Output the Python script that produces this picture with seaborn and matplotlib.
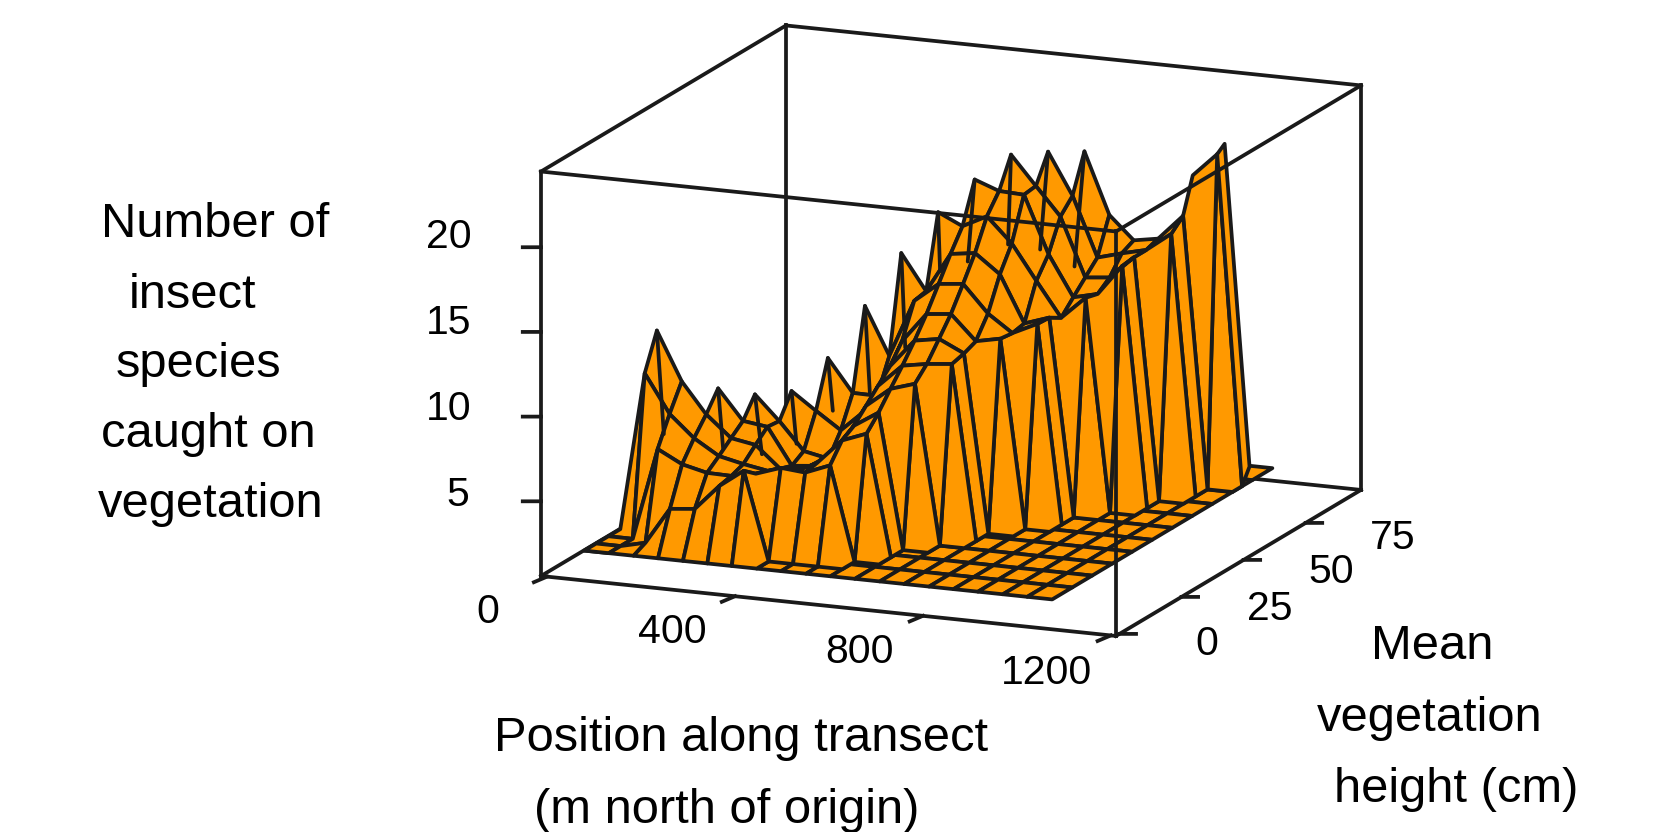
import numpy as np
import matplotlib
matplotlib.use("Agg")
import matplotlib.pyplot as plt
import seaborn as sns
from mpl_toolkits.mplot3d import proj3d
from mpl_toolkits.mplot3d.art3d import Poly3DCollection

# ---------- data ----------
position_m = [48, 100, 153, 205, 258, 310, 362, 415, 467, 520,
              572, 624, 677, 729, 782, 834, 886, 939, 991, 1044]
floor_height_cm = [4.5, 12.6, 20.6, 28.7, 36.7, 44.8, 52.9, 60.9, 69.0, 77.0, 85.1, 93.2]
ridge_height_cm = [4.5, 9.3, 14.2, 19.0, 23.9, 28.7, 33.5, 38.4, 43.2, 48.1,
                   52.9, 57.7, 62.6, 67.4, 72.3, 77.1, 81.0, 84.0]
floor_species = 1.75
floor_last_row = [2, 1, 0, 0, 0, 0, 0, 1, 1, 1, 1, 3, 3, 5, 5, 6, 7, 8, 11, 11]

first_row = [0, 0, 0, 0, 0, 0, 0, 0, 1, 1, 1, 2, 4, 5, 7, 8, 10, 11, 13, 15]
species = [
    [1.75, 1.75, 1.75, 1.75],
    [1.75, 1.75, 1.75, 11.1, 13.2],
    [1.75, 2.1, 7.2, 8.85, 10.35],
    [1.75, 4.25, 6.45, 7.57, 8.55, 9.67],
    [1.75, 4.4, 6.1, 6.67, 7.3, 7.9, 9.05],
    [1.75, 5.9, 6.07, 6.35, 7.05, 7.7, 7.62, 8.97],
    [1.75, 6.95, 6.35, 6.1, 5.8, 5.55, 6.0, 7.95, 10.65],
    [1.75, 1.75, 6.85, 6.15, 5.95, 5.7, 5.7, 6.95, 8.74, 13.45],
    [1.75, 6.72, 6.87, 6.87, 7.05, 7.5, 8.27, 8.72, 10.65, 16.3],
    [1.75, 7.3, 8.35, 8.8, 9.55, 10.3, 11.05, 12.1, 14.05, 14.2, 18.45],
    [1.75, 1.75, 8.9, 9.72, 10.7, 11.65, 12.7, 13.85, 15.2, 16.55, 17.77, 20.1],
    [1.75, 1.75, 1.75, 11.15, 11.9, 12.95, 14.0, 15.35, 16.75, 18.5, 19.57, 21.3],
    [1.75, 1.75, 12.05, 12.25, 12.55, 13.75, 15.65, 17.05, 19.5, 19.6, 21.2],
    [1.75, 1.75, 1.75, 12.85, 12.75, 12.9, 15.0, 16.15, 17.95, 18.75, 20.95],
    [1.75, 1.75, 13.45, 13.4, 12.97, 13.75, 14.5, 15.25, 17.35],
    [1.75, 1.75, 1.75, 14.3, 14.1, 14.65, 15.65, 16.0],
    [1.75, 1.75, 15.9, 16.0, 16.0, 16.25],
    [1.75, 1.75, 1.75, 17.1, 17.75, 19.8],
    [1.75, 1.75, 1.75, 21.2, 21.55],
    [1.75, 1.75, 2.65],
]

# steep creases that fall from each spike: column, row of the spike, height and species at the crease foot
crease_col = [1, 3, 4, 5, 6, 7, 8, 9, 10, 11, 12, 13]
crease_row = [4, 5, 6, 7, 8, 9, 10, 11, 12, 13, 14, 15]
crease_foot_cm = [26.7, 30.7, 36.3, 40.4, 45.2, 50.1, 54.5, 58.5, 59.8, 66.2, 69.1, 73.1]
crease_foot_species = [6.84, 5.96, 5.27, 5.68, 7.36, 8.1, 10.57, 14.9, 15.5, 16.1, 15.7, 14.5]

x_ticks = [0, 400, 800, 1200]
y_ticks = [0, 25, 50, 75]
z_ticks = [5, 10, 15, 20]
x_limits = (-13, 1211)
y_limits = (-1.4, 97.3)
z_limits = (0.59, 24.47)

# ---------- style ----------
sns.set_theme(style="white")
plt.rcParams["font.family"] = ["Liberation Sans", "DejaVu Sans"]
ORANGE = "#FF9900"
LW = 2.7
W, H = 1663, 832

fig = plt.figure(figsize=(W / 100, H / 100), dpi=100, facecolor="white")
ax = fig.add_axes([0.1, 0.0, 0.5, 1.0], projection="3d", proj_type="ortho")
ax.computed_zorder = False
ax.view_init(elev=14.44, azim=-67.3, roll=0)
ax.set_box_aspect((623, 634.6, 417.5))
ax.set_xlim(*x_limits, view_margin=0)
ax.set_ylim(*y_limits, view_margin=0)
ax.set_zlim(*z_limits, view_margin=0)
ax.set_axis_off()
ax.patch.set_alpha(0)

# ---------- surface ----------
floor_polys = []
for c in range(len(position_m) - 1):
    last = min(floor_last_row[c], floor_last_row[c + 1])
    for r in range(last):
        floor_polys.append([
            (position_m[c], floor_height_cm[r], floor_species),
            (position_m[c + 1], floor_height_cm[r], floor_species),
            (position_m[c + 1], floor_height_cm[r + 1], floor_species),
            (position_m[c], floor_height_cm[r + 1], floor_species),
        ])

band_polys = []
for c in range(len(position_m) - 1):
    a_rows = {first_row[c] + i: v for i, v in enumerate(species[c])}
    b_rows = {first_row[c + 1] + i: v for i, v in enumerate(species[c + 1])}
    common = sorted(set(a_rows) & set(b_rows))
    xa, xb = position_m[c], position_m[c + 1]
    for lo, hi in zip(common[:-1], common[1:]):
        poly = [(xa, ridge_height_cm[lo], a_rows[lo])]
        for k in range(lo, hi + 1):
            if k in b_rows:
                poly.append((xb, ridge_height_cm[k], b_rows[k]))
        for k in range(hi, lo, -1):
            if k in a_rows:
                poly.append((xa, ridge_height_cm[k], a_rows[k]))
        band_polys.append(poly)

floor_col = Poly3DCollection(floor_polys, facecolors=ORANGE, edgecolors="k",
                             linewidths=LW, zorder=2, zsort="average")
ax.add_collection3d(floor_col, autolim=False)
band_col = Poly3DCollection(band_polys, facecolors=ORANGE, edgecolors="k",
                            linewidths=LW, zorder=3, zsort="average")
ax.add_collection3d(band_col, autolim=False)

for c, k, foot_y, foot_z in zip(crease_col, crease_row, crease_foot_cm, crease_foot_species):
    ax.plot([position_m[c], position_m[c]], [ridge_height_cm[k], foot_y],
            [species[c][k - first_row[c]], foot_z], color="k", lw=LW, zorder=4)

# ---------- box ----------
x0, x1 = x_limits
y0, y1 = y_limits
z0, z1 = z_limits


def edge(p, q, z):
    ax.plot([p[0], q[0]], [p[1], q[1]], [p[2], q[2]], color="k", lw=LW,
            zorder=z, solid_capstyle="projecting")


back = [((x0, y1, z0), (x0, y1, z1)), ((x1, y1, z0), (x1, y1, z1)),
        ((x0, y1, z0), (x1, y1, z0)), ((x0, y0, z0), (x0, y1, z0)),
        ((x1, y0, z0), (x1, y1, z0)), ((x0, y1, z1), (x1, y1, z1))]
front = [((x0, y0, z0), (x1, y0, z0)), ((x0, y0, z0), (x0, y0, z1)),
         ((x1, y0, z0), (x1, y0, z1)), ((x0, y0, z1), (x1, y0, z1)),
         ((x0, y0, z1), (x0, y1, z1)), ((x1, y0, z1), (x1, y1, z1))]
for p, q in back:
    edge(p, q, 1)
for p, q in front:
    edge(p, q, 5)

# ---------- ticks ----------
for t in x_ticks:
    edge((t, y0, z0), (t - 7, y0 - 4, z0), 5)
for t in y_ticks:
    edge((x1, t, z0), (x1 + 30, t + 1, z0), 5)
for t in z_ticks:
    edge((x0, y0, t), (x0 - 33, y0 - 1.1, t), 5)


# ---------- place the box on the canvas ----------
def px(x, y, z):
    xs, ys, _ = proj3d.proj_transform(x, y, z, ax.get_proj())
    return ax.transData.transform((xs, ys))


target_a = np.array([541.0, H - 576.0])
target_c = np.array([1361.0, H - 490.0])
size = 800.0
cx, cy = 800.0, 400.0
for _ in range(4):
    ax.set_position([(cx - size / 2) / W, (cy - size / 2) / H, size / W, size / H])
    fig.canvas.draw()
    a, c = px(x0, y0, z0), px(x1, y1, z0)
    size *= (target_c[0] - target_a[0]) / (c[0] - a[0])
    ax.set_position([(cx - size / 2) / W, (cy - size / 2) / H, size / W, size / H])
    fig.canvas.draw()
    a = px(x0, y0, z0)
    cx += target_a[0] - a[0]
    cy += target_a[1] - a[1]
ax.set_position([(cx - size / 2) / W, (cy - size / 2) / H, size / W, size / H])

# ---------- text ----------
S = 1663 / 1568


def label(txt, xc, yc, fs):
    fig.text(xc * S / W, 1 - yc * S / H, txt, ha="center", va="center",
             fontsize=fs, color="black")


TICK = 29.5
TITLE = 35.2
for txt, xc, yc in [("20", 423, 223), ("15", 423, 305), ("10", 423, 386), ("5", 432, 467),
                    ("0", 460, 577), ("400", 634, 596), ("800", 810, 615), ("1200", 987, 635),
                    ("0", 1138, 607), ("25", 1197, 574), ("50", 1255, 539), ("75", 1313, 507)]:
    label(txt, xc, yc, TICK)
for txt, xc, yc in [("Number of", 203, 212), ("insect", 182, 279), ("species", 187, 344),
                    ("caught on", 196, 410), ("vegetation", 199, 476),
                    ("Position along transect", 699, 696), ("(m north of origin)", 685, 764),
                    ("Mean", 1350, 610), ("vegetation", 1348, 677), ("height (cm)", 1373, 744)]:
    label(txt, xc, yc, TITLE)

fig.savefig("out.png", dpi=100)
